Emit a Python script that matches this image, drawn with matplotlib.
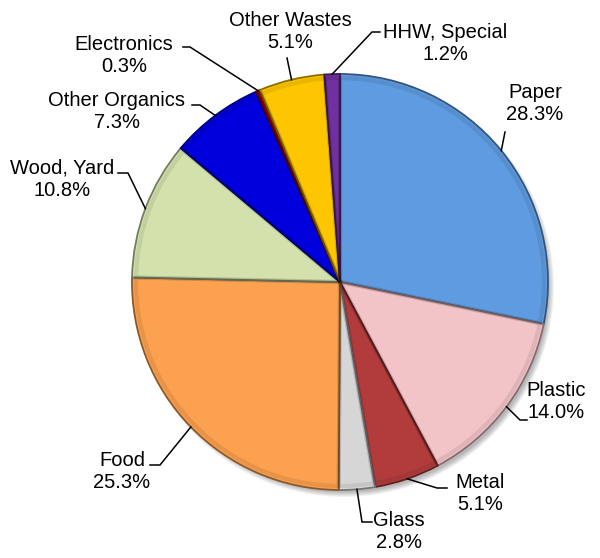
import numpy as np
import matplotlib.pyplot as plt
import matplotlib.colors as mcolors

plt.rcParams['font.family'] = ['Liberation Sans', 'DejaVu Sans']

# waste composition, clockwise from 12 o'clock
labels = ['Paper', 'Plastic', 'Metal', 'Glass', 'Food', 'Wood, Yard',
          'Other Organics', 'Electronics', 'Other Wastes', 'HHW, Special']
shares = [28.3, 14.0, 5.1, 2.8, 25.3, 10.8, 7.3, 0.3, 5.1, 1.2]
colors = ['#5e9be0', '#f2c4c8', '#b23c3c', '#d6d6d6', '#fba14f', '#d3e2ad',
          '#0000dd', '#b00000', '#fec600', '#7030a0']

# label placement (pixel coords) and elbow of the leader line
label_pos = [(535, 103), (556, 402), (480, 494), (399, 531), (122, 472),
             (62, 179), (117, 112), (124, 56), (290, 31), (445, 44)]
elbows = [(505, 132), (520, 420), (437, 488), (362, 522), (160, 465),
          (128, 173), (200, 105), (190, 47), (287, 58), (372, 32)]
elbow_ends = [None, (527, 420), (447, 488), (372, 522), (150, 465),
              (118, 173), (192, 105), (183, 47), None, (380, 32)]

W, H = 600, 558
cx, cy, r = 340, H - 282, 208

fig = plt.figure(figsize=(6, 5.58), dpi=100)
ax = fig.add_axes([0, 0, 1, 1])

# soft drop shadow under the pie
for k in range(6):
    ax.pie([1], radius=r + 2 - k, center=(cx + 4, cy - 5), colors=['#000000'],
           wedgeprops=dict(alpha=0.05, linewidth=0), frame=True)

edge = [tuple(c * 0.55 for c in mcolors.to_rgb(col)) for col in colors]
wedges, _ = ax.pie(shares, radius=r, center=(cx, cy), startangle=90,
                   counterclock=False, colors=colors, frame=True,
                   wedgeprops=dict(linewidth=1.3))
for w, e in zip(wedges, edge):
    w.set_edgecolor(e)

# faint inner rim for a bevelled look
ax.pie(shares, radius=r - 4, center=(cx, cy), startangle=90,
       counterclock=False, colors=['none'] * len(shares), frame=True,
       wedgeprops=dict(linewidth=3, edgecolor=(0, 0, 0, 0.08)))

ax.set_xlim(0, W)
ax.set_ylim(0, H)
ax.set_aspect('equal')
ax.axis('off')

for w, lab, val, pos, elb, end in zip(wedges, labels, shares, label_pos,
                                        elbows, elbow_ends):
    ang = np.deg2rad((w.theta1 + w.theta2) / 2)
    px, py = cx + r * np.cos(ang), cy + r * np.sin(ang)
    ex, ey = elb
    xs, ys = [px, ex], [py, H - ey]
    if end is not None:
        xs.append(end[0])
        ys.append(H - end[1])
    ax.plot(xs, ys, color='black', lw=1.1, solid_joinstyle='miter')
    ax.text(pos[0], H - pos[1], f'{lab}\n{val:.1f}%', ha='center',
            va='center', fontsize=14.5, linespacing=1.2)

fig.savefig('out.png', dpi=100)
